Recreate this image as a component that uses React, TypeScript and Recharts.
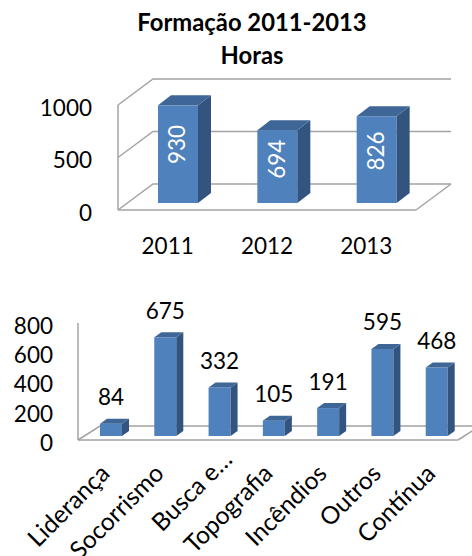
import { BarChart, Bar, XAxis, YAxis, ReferenceLine, LabelList } from "recharts";

const years = ["2011", "2012", "2013"];
const hours = [930, 694, 826];
const yearTicks = [0, 500, 1000];

const courses = ["Liderança", "Socorrismo", "Busca e…", "Topografia", "Incêndios", "Outros", "Contínua"];
const courseHours = [84, 675, 332, 105, 191, 595, 468];
const courseTicks = [0, 200, 400, 600, 800];

const yearData = years.map((name, i) => ({ name, value: hours[i] }));
const courseData = courses.map((name, i) => ({ name, value: courseHours[i] }));

const FONT = "Lato, sans-serif";
const GRID = "#a3a3a3";

// 3d column: front face shifted into the box, plus side and top faces
const Bar3D = ({ x, y, width, height, shiftX, shiftY, dx, dy }: any) => {
  const left = x + shiftX;
  const right = left + width;
  const top = y - shiftY;
  const bottom = top + height;
  return (
    <g>
      <rect x={left} y={top} width={width} height={height} fill="#4f81bd" />
      <polygon
        points={`${right},${top} ${right + dx},${top - dy} ${right + dx},${bottom - dy} ${right},${bottom}`}
        fill="#32547f"
      />
      <polygon
        points={`${left},${top} ${left + dx},${top - dy} ${right + dx},${top - dy} ${right},${top}`}
        fill="#3e6797"
      />
    </g>
  );
};

// gridline on the side wall and the back wall
const WallLine = ({ x1, y1, x2, dx, dy, floor }: any) => (
  <g fill="none" stroke={GRID} strokeWidth={1.5}>
    <polyline points={`${x1},${y1} ${x1 + dx},${y1 - dy} ${x2 + dx},${y1 - dy}`} />
    {floor && <line x1={x2} y1={y1} x2={x2 + dx} y2={y1 - dy} />}
  </g>
);

const InsideLabel = ({ x, y, width, height, value }: any) => {
  const cx = x + 9;
  const cy = y - 7 + height * 0.4;
  return (
    <text
      x={cx + width / 2}
      y={cy}
      fill="#ffffff"
      fontSize={22.5}
      fontFamily={FONT}
      textAnchor="middle"
      dominantBaseline="central"
      transform={`rotate(-90 ${cx + width / 2} ${cy})`}
    >
      {value}
    </text>
  );
};

const TopLabel = ({ x, y, width, value }: any) => (
  <text
    x={x + 6 + width / 2}
    y={y - 31}
    fill="#000000"
    fontSize={22.5}
    fontFamily={FONT}
    textAnchor="middle"
    dominantBaseline="central"
  >
    {value}
  </text>
);

const SlantTick = ({ x, y, payload }: any) => {
  // the shortened label sits further up its slope in the original
  const shift = payload.value.endsWith("…") ? 14 : 0;
  const tx = x + 6 + shift;
  const ty = y + 27 - shift;
  return (
    <text
      x={tx}
      y={ty}
      fill="#000000"
      fontSize={24.5}
      fontFamily={FONT}
      textAnchor="end"
      transform={`rotate(-45 ${tx} ${ty})`}
    >
      {payload.value}
    </text>
  );
};

const tickStyle = { fill: "#000000", fontSize: 22.5, fontFamily: FONT };
const yTickStyle = { ...tickStyle, dy: 3 };
const axisLine = { stroke: GRID, strokeWidth: 1.5 };

export default function App() {
  return (
    <div style={{ position: "absolute", left: 0, top: 0, width: 472, height: 556, overflow: "hidden", background: "#fff" }}>
      <div
        style={{
          position: "absolute",
          left: 0,
          width: 504,
          top: 6,
          textAlign: "center",
          fontFamily: FONT,
          fontWeight: 700,
          fontSize: 23.8,
          lineHeight: "33px",
          color: "#000",
        }}
      >
        Formação 2011-2013
        <br />
        Horas
      </div>

      <div style={{ position: "absolute", left: 0, top: 0 }}>
        <BarChart
          width={472}
          height={270}
          data={yearData}
          barSize={40}
          margin={{ top: 105, right: 56, bottom: 30, left: 18 }}
        >
          <XAxis dataKey="name" height={30} axisLine={axisLine} tickLine={false} tick={tickStyle} tickMargin={28} tickSize={0} />
          <YAxis
            width={100}
            domain={[0, 1000]}
            ticks={yearTicks}
            axisLine={axisLine}
            tickLine={false}
            tick={yTickStyle}
            tickMargin={26}
            tickSize={0}
          />
          {yearTicks.map((t) => (
            <ReferenceLine key={t} y={t} zIndex={100} shape={(p: any) => <WallLine {...p} dx={35} dy={26} floor={t === 0} />} />
          ))}
          <Bar
            dataKey="value"
            isAnimationActive={false}
            shape={(p: any) => <Bar3D {...p} shiftX={10} shiftY={7} dx={13} dy={10} />}
          >
            <LabelList dataKey="value" content={InsideLabel} />
          </Bar>
        </BarChart>
      </div>

      <div style={{ position: "absolute", left: 0, top: 280 }}>
        <BarChart
          width={472}
          height={276}
          data={courseData}
          barSize={22}
          margin={{ top: 43, right: 14, bottom: 36, left: 8 }}
        >
          <XAxis
            dataKey="name"
            interval={0}
            height={80}
            axisLine={axisLine}
            tickLine={false}
            tick={SlantTick}
          />
          <YAxis
            width={70}
            domain={[0, 800]}
            ticks={courseTicks}
            interval={0}
            axisLine={axisLine}
            tickLine={false}
            tick={yTickStyle}
            tickMargin={25}
            tickSize={0}
          />
          <ReferenceLine y={0} zIndex={100} shape={(p: any) => <WallLine {...p} dx={22} dy={14} floor />} />
          <Bar
            dataKey="value"
            isAnimationActive={false}
            shape={(p: any) => <Bar3D {...p} shiftX={6} shiftY={4} dx={7} dy={5} />}
          >
            <LabelList dataKey="value" content={TopLabel} />
          </Bar>
        </BarChart>
      </div>
    </div>
  );
}
